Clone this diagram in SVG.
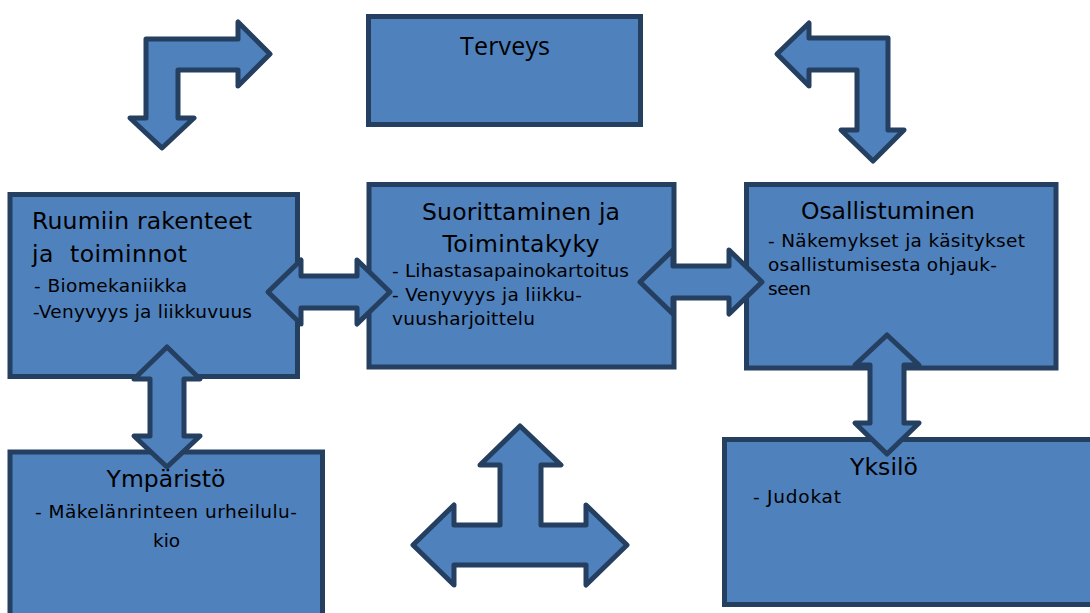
<svg xmlns="http://www.w3.org/2000/svg" width="1090" height="613" viewBox="0 0 1090 613">
<style>
.box{fill:#4f81bd;stroke:#243f60;stroke-width:5}
.arr{fill:#4f81bd;stroke:#243f60;stroke-width:5;stroke-linejoin:round}
text{font-family:"DejaVu Sans","Liberation Sans",sans-serif;fill:#000}
.t{font-size:23.5px}
.s{font-size:18.5px}
.m{text-anchor:middle}
</style>
<rect width="1090" height="613" fill="#fff"/>
<g id="terveys">
<rect class="box" x="368.5" y="16.5" width="272" height="108"/>
<text class="m" x="505" y="55" style="font-size:25px;font-family:'Open Sans','DejaVu Sans',sans-serif" textLength="90">Terveys</text>
</g>
<g id="ruumiin">
<rect class="box" x="10" y="194.5" width="287.5" height="182"/>
<text class="t" x="32" y="229" textLength="220">Ruumiin rakenteet</text>
<text class="t" x="32" y="262" textLength="155" xml:space="preserve">ja  toiminnot</text>
<text class="s" x="34" y="292" textLength="153">- Biomekaniikka</text>
<text class="s" x="33" y="318" textLength="219">-Venyvyys ja liikkuvuus</text>
</g>
<g id="suorittaminen">
<rect class="box" x="369" y="184.5" width="305" height="182.5"/>
<text class="t m" x="521" y="220" textLength="198">Suorittaminen ja</text>
<text class="t m" x="521" y="252" textLength="157">Toimintakyky</text>
<text class="s" x="392" y="277" textLength="237">- Lihastasapainokartoitus</text>
<text class="s" x="392" y="301" textLength="190">- Venyvyys ja liikku-</text>
<text class="s" x="392" y="325" textLength="143">vuusharjoittelu</text>
</g>
<g id="osallistuminen">
<rect class="box" x="746.5" y="184.5" width="309.5" height="183.5"/>
<text class="t m" x="888" y="219" textLength="174">Osallistuminen</text>
<text class="s" x="768" y="247" textLength="257">- Näkemykset ja käsitykset</text>
<text class="s" x="768" y="271" textLength="229">osallistumisesta ohjauk-</text>
<text class="s" x="768" y="295" textLength="43">seen</text>
</g>
<g id="ymparisto">
<rect class="box" x="10" y="452" width="312.5" height="170"/>
<text class="t m" x="166" y="487" textLength="119">Ympäristö</text>
<text class="s m" x="166" y="518" textLength="262">- Mäkelänrinteen urheilulu-</text>
<text class="s m" x="166.5" y="547" textLength="27">kio</text>
</g>
<g id="yksilo">
<rect class="box" x="724.5" y="439.5" width="370" height="165"/>
<text class="t m" x="884" y="475" textLength="68">Yksilö</text>
<text class="s" x="753" y="503" textLength="88">- Judokat</text>
</g>
<g id="connectors">
<path class="arr" d="M270,54 L238,22 L238,39 L146,39 L146,118 L130,118 L162,148 L194,118 L178,118 L178,70 L238,70 L238,86 Z"/>
<path class="arr" d="M777,54 L809,23 L809,38 L888,38 L888,130 L904,130 L873,161 L841,130 L857,130 L857,70 L809,70 L809,86 Z"/>
<path class="arr" d="M268,292 L301,260 L301,276 L357,276 L357,260 L390,292 L357,324 L357,308 L301,308 L301,324 Z"/>
<path class="arr" d="M640,282 L673,250 L673,266 L729,266 L729,250 L762,282 L729,314 L729,298 L673,298 L673,314 Z"/>
<path class="arr" d="M167,347 L200,379 L184,379 L184,436 L200,436 L167,467 L134,436 L150,436 L150,379 L134,379 Z"/>
<path class="arr" d="M887,335 L919,365 L904,365 L904,423 L919,423 L887,454 L855,423 L870,423 L870,365 L855,365 Z"/>
<path class="arr" d="M520,426 L561,465 L541,465 L541,525 L586,525 L586,505 L627,545 L586,585 L586,565 L454,565 L454,585 L413,545 L454,505 L454,525 L500,525 L500,465 L480,465 Z"/>
</g>
</svg>
